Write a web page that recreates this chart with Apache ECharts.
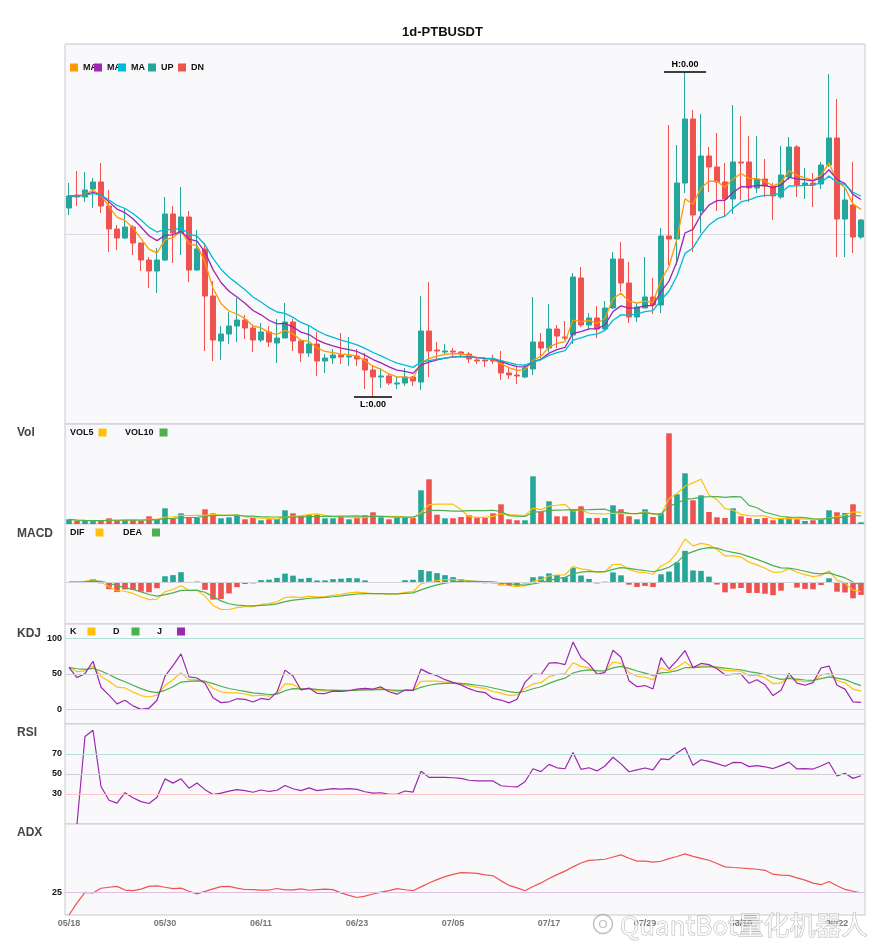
<!DOCTYPE html>
<html>
<head>
<meta charset="utf-8">
<title>1d-PTBUSDT</title>
<script src="https://cdn.jsdelivr.net/npm/echarts@6/dist/echarts.min.js"></script>
<style>
  html, body { margin: 0; padding: 0; background: #fff; }
  #chart { width: 885px; height: 950px; }
</style>
</head>
<body>
<div id="chart"></div>
<script>
const dates = [
  '05/18','05/19','05/20','05/21','05/22','05/23','05/24','05/25','05/26','05/27','05/28','05/29','05/30','05/31',
  '06/01','06/02','06/03','06/04','06/05','06/06','06/07','06/08','06/09','06/10','06/11','06/12','06/13','06/14','06/15',
  '06/16','06/17','06/18','06/19','06/20','06/21','06/22','06/23','06/24','06/25','06/26','06/27','06/28','06/29','06/30',
  '07/01','07/02','07/03','07/04','07/05','07/06','07/07','07/08','07/09','07/10','07/11','07/12','07/13','07/14','07/15',
  '07/16','07/17','07/18','07/19','07/20','07/21','07/22','07/23','07/24','07/25','07/26','07/27','07/28','07/29','07/30','07/31',
  '08/01','08/02','08/03','08/04','08/05','08/06','08/07','08/08','08/09','08/10','08/11','08/12','08/13','08/14','08/15',
  '08/16','08/17','08/18','08/19','08/20','08/21','08/22','08/23','08/24','08/25'
];

// prices in units of 0.00001 USDT
const PRICE_UNIT = 1e-5;
const openU = [
  216,229,227,235,242,218,195,186,197,181, 164,153,164,210,191,207,154,175,128,83,
  90,98,104,96,84,92,81,86,102,83, 71,80,63,66,69,67,68,65,54,47,
  48,40,41,47,42,93,74,72,73,72, 70,64,64,64,63,51,49,47,55,82,
  76,95,87,89,146,99,106,95,116,165, 141,107,116,127,119,188,185,241,305,213,
  268,257,242,225,262,262,236,245,238,227, 247,277,239,241,240,259,286,205,219,187
];
const closeU = [
  228,227,234,242,218,195,186,197,181,164, 153,164,210,191,207,154,175,128,84,90,
  98,104,96,84,92,82,86,102,83,71, 80,63,66,69,67,68,65,54,47,48,
  41,41,47,43,93,73,73,73,72,70, 65,63,63,63,51,49,48,56,82,76,
  95,88,86,147,99,106,95,116,165,141, 107,117,127,119,188,185,241,305,209,268,
  257,242,225,262,261,236,245,238,228,249, 277,239,241,239,259,286,205,224,187,204
];
const lowU = [
  209,218,222,216,211,172,174,185,169,153, 136,131,163,161,169,142,153,73,63,64,
  80,82,85,72,82,77,61,86,73,62, 67,48,51,60,60,58,58,35,27,36,
  39,35,38,38,34,47,64,69,68,67, 61,60,57,60,44,45,40,46,49,66,
  72,76,84,80,97,94,86,94,115,132, 101,102,116,110,111,159,159,231,172,191,
  232,213,207,210,224,222,231,227,204,225, 244,227,225,217,235,257,167,167,171,185
];
const highU = [
  241,253,252,246,261,234,199,216,199,181, 167,176,227,218,237,213,194,181,143,98,
  112,126,109,98,101,98,105,121,105,85, 99,92,70,75,91,87,75,71,59,56,
  50,47,56,48,128,142,82,80,76,73, 72,67,67,69,73,56,58,60,127,91,
  120,99,103,151,157,111,118,123,172,182, 162,121,167,146,196,299,279,352,314,310,
  277,291,261,319,308,288,288,265,241,278, 287,279,256,251,262,350,325,237,262,205
];
const volumes = [
  4.7,3,3,3,3,5.7,4,4,4,3.3, 7.7,4.3,15.7,5.3,10.7,6,6,14.7,10.7,5.7,
  6.7,8.3,4.7,6,3.7,4.7,5,13.7,10.7,8, 9.3,9.3,5.7,5.7,7.3,4.7,6.7,8.7,11.7,6.7,
  4.7,6,6,6,33.7,44.7,9.3,5.7,5.7,7, 8.7,6,6,10.7,19.7,4.7,3.7,3.7,47.7,12,
  22.7,7.7,7.7,14.3,17.7,6,6,6,18.7,14.7, 7.7,4.7,14.7,7,10.7,90.7,29.7,50.7,23.7,28.7,
  12,6.7,6,15.7,7.7,6,5,6,3.7,6, 6.7,4.7,3,3.7,4.7,13.7,11.7,11,19.7,1.7
];

const UP = '#26a69a', DN = '#ef5350';
const C_MA1 = '#ff9800', C_MA2 = '#9c27b0', C_MA3 = '#00bcd4';
const C_YEL = '#ffc107', C_GRN = '#4caf50', C_PUR = '#9c27b0';

const open = openU.map(v => v * PRICE_UNIT);
const close = closeU.map(v => v * PRICE_UNIT);
const low = lowU.map(v => v * PRICE_UNIT);
const high = highU.map(v => v * PRICE_UNIT);

function ema(src, n) {
  const k = 2 / (n + 1);
  let prev = src[0];
  return src.map((v, i) => (prev = i === 0 ? v : prev + k * (v - prev)));
}
function sma(src, n) {
  return src.map((v, i) => {
    const s = src.slice(Math.max(0, i - n + 1), i + 1);
    return s.reduce((a, b) => a + b, 0) / s.length;
  });
}

// price averages
const ma1 = ema(close, 5), ma2 = ema(close, 9), ma3 = ema(close, 13);
// volume averages
const vol5 = sma(volumes, 5), vol10 = sma(volumes, 10);

// MACD (fast settings)
const eFast = ema(close, 6), eSlow = ema(close, 13);
const dif = eFast.map((v, i) => v - eSlow[i]);
const dea = ema(dif, 5);
const macd = dif.map((v, i) => 2 * (v - dea[i]));

// KDJ 9/3/3
const kArr = [], dArr = [], jArr = [];
(function () {
  let k, d;
  close.forEach((c, i) => {
    const from = Math.max(0, i - 8);
    const lo = Math.min(...low.slice(from, i + 1));
    const hi = Math.max(...high.slice(from, i + 1));
    const rsv = hi === lo ? 50 : (c - lo) / (hi - lo) * 100;
    if (i === 0) { k = rsv; d = rsv; } else { k = (2 * k + rsv) / 3; d = (2 * d + k) / 3; }
    kArr.push(k); dArr.push(d); jArr.push(3 * k - 2 * d);
  });
})();

// RSI 14
const rsi = ['-'];
(function () {
  let ag = 0, al = 0;
  for (let i = 1; i < close.length; i++) {
    const diff = close[i] - close[i - 1];
    const g = Math.max(diff, 0), l = Math.max(-diff, 0);
    if (i <= 14) { ag = (ag * (i - 1) + g) / i; al = (al * (i - 1) + l) / i; }
    else { ag = (ag * 13 + g) / 14; al = (al * 13 + l) / 14; }
    rsi.push(ag + al === 0 ? 50 : ag / (ag + al) * 100);
  }
})();

// ADX 14
const adx = [0];
(function () {
  const a = 2 / 15;
  let sp = 0, sm = 0, v = 0;
  for (let i = 1; i < close.length; i++) {
    const up = high[i] - high[i - 1], down = low[i - 1] - low[i];
    const pdm = up > down && up > 0 ? up : 0;
    const mdm = down > up && down > 0 ? down : 0;
    sp += a * (pdm - sp);
    sm += a * (mdm - sm);
    const dx = sp + sm === 0 ? 0 : Math.abs(sp - sm) / (sp + sm) * 100;
    v += a * (dx - v);
    adx.push(v);
  }
})();

const hiIdx = high.indexOf(Math.max(...high));
const loIdx = low.indexOf(Math.min(...low));
const macdPeak = Math.max(...dif);

const grids = [
  { top: 44, height: 380 },
  { top: 424, height: 100 },
  { top: 524, height: 100 },
  { top: 624, height: 100 },
  { top: 724, height: 100 },
  { top: 824, height: 91 }
].map(g => Object.assign({
  left: 65, right: 20, show: true,
  backgroundColor: '#f9f9fb', borderColor: '#c9c9cf', borderWidth: 1
}, g));

const xAxes = grids.map((g, i) => ({
  type: 'category', gridIndex: i, data: dates, boundaryGap: true,
  axisLine: { show: false }, axisTick: { show: false }, splitLine: { show: false },
  axisLabel: { show: i === 5, interval: 11, color: '#777', fontWeight: 'bold', fontSize: 9, margin: 4 }
}));

const sideLabel = (keep) => ({
  show: true, fontSize: 9, fontWeight: 'bold', color: '#111', margin: 3,
  formatter: v => (keep.indexOf(Math.round(v)) >= 0 ? String(Math.round(v)) : '')
});
const noLabels = { axisLabel: { show: false }, axisTick: { show: false }, axisLine: { show: false }, splitLine: { show: false } };

const yAxes = [
  Object.assign({}, noLabels, { gridIndex: 0, min: 0, max: 0.0038, interval: 0.0019,
    splitLine: { show: true, lineStyle: { color: '#dddbe6', width: 1 } } }),
  Object.assign({}, noLabels, { gridIndex: 1, min: 0, max: 100 }),
  Object.assign({}, noLabels, { gridIndex: 2, min: -macdPeak * 42 / 43, max: macdPeak * 58 / 43 }),
  Object.assign({}, noLabels, { gridIndex: 3, min: -20, max: 120, interval: 10, axisLabel: sideLabel([0, 50, 100]) }),
  Object.assign({}, noLabels, { gridIndex: 4, min: 0, max: 100, interval: 10, axisLabel: sideLabel([30, 50, 70]) }),
  Object.assign({}, noLabels, { gridIndex: 5, min: 0, max: 100, interval: 25, axisLabel: sideLabel([25]) })
];

function line(name, data, color, idx, extra) {
  return Object.assign({
    name, type: 'line', data, xAxisIndex: idx, yAxisIndex: idx, z: 3,
    symbol: 'none', showSymbol: false, smooth: false,
    itemStyle: { color }, lineStyle: { color, width: 1.2 }
  }, extra || {});
}
// invisible host series so the guide lines sit under the indicator lines
function guides(idx, data, items) {
  return {
    name: 'guide' + idx, type: 'line', data, xAxisIndex: idx, yAxisIndex: idx, z: 1,
    symbol: 'none', silent: true, lineStyle: { opacity: 0 },
    markLine: {
      silent: true, symbol: 'none', animation: false, label: { show: false },
      data: items.map(([y, c]) => ({ yAxis: y, lineStyle: { color: c, width: 1, type: 'solid' } }))
    }
  };
}
function lg(name, left, top, align, pad, label) {
  return {
    show: true, left, top, padding: 0, data: [name], icon: 'rect',
    itemWidth: 8, itemHeight: 8, align, selectedMode: false,
    formatter: label || name,
    textStyle: {
      fontSize: 9, fontWeight: 'bold', color: '#111',
      padding: align === 'right' ? [0, pad, 0, 0] : [0, 0, 0, pad]
    }
  };
}

const candleData = dates.map((d, i) => [open[i], close[i], low[i], high[i]]);
const volData = volumes.map((v, i) => ({ value: v, itemStyle: { color: close[i] >= open[i] ? UP : DN } }));
const macdData = macd.map(v => ({ value: v, itemStyle: { color: v >= 0 ? UP : DN } }));

const markLabel = { show: true, color: '#000', fontWeight: 'bold', fontSize: 9, distance: 2 };
const paneTitle = (text, top) => ({ text, left: 17, top, padding: 0, textStyle: { fontSize: 12, fontWeight: 'bold', color: '#444' } });

const option = {
  animation: false,
  backgroundColor: '#fff',
  title: [
    { text: '1d-PTBUSDT', left: 'center', top: 26, padding: 0, textStyle: { fontSize: 13, fontWeight: 'bold', color: '#111' } },
    paneTitle('Vol', 427),
    paneTitle('MACD', 528),
    paneTitle('KDJ', 628),
    paneTitle('RSI', 727),
    paneTitle('ADX', 827)
  ],
  legend: [
    lg('MA5', 70, 63, 'left', 0, 'MA'),
    lg('MA9', 94, 63, 'left', 0, 'MA'),
    lg('MA13', 118, 63, 'left', 0, 'MA'),
    lg('UP', 148, 63, 'left', 0),
    lg('DN', 178, 63, 'left', 0),
    lg('VOL5', 70, 428, 'right', 0),
    lg('VOL10', 125, 428, 'right', 1),
    lg('DIF', 70, 528, 'right', 6),
    lg('DEA', 123, 528, 'right', 5),
    lg('K', 70, 627, 'right', 6),
    lg('D', 113, 627, 'right', 7),
    lg('J', 157, 627, 'right', 10)
  ],
  grid: grids,
  xAxis: xAxes,
  yAxis: yAxes,
  series: [
    {
      name: 'kline', type: 'candlestick', data: candleData, xAxisIndex: 0, yAxisIndex: 0,
      barWidth: 6,
      itemStyle: { color: UP, color0: DN, borderColor: UP, borderColor0: DN, borderWidth: 1 },
      markPoint: {
        symbol: 'rect', animation: false, itemStyle: { color: '#000' },
        data: [
          { name: 'H', coord: [dates[hiIdx], high[hiIdx]], value: high[hiIdx], symbolSize: [42, 1.5],
            label: Object.assign({}, markLabel, { position: 'top', formatter: p => 'H:' + p.value.toFixed(2) }) },
          { name: 'L', coord: [dates[loIdx], low[loIdx]], value: low[loIdx], symbolSize: [38, 1.5],
            label: Object.assign({}, markLabel, { position: 'bottom', formatter: p => 'L:' + p.value.toFixed(2) }) }
        ]
      }
    },
    line('MA5', ma1, C_MA1, 0, { lineStyle: { color: C_MA1, width: 1.3 } }),
    line('MA9', ma2, C_MA2, 0, { lineStyle: { color: C_MA2, width: 1.3 } }),
    line('MA13', ma3, C_MA3, 0, { lineStyle: { color: C_MA3, width: 1.3 } }),
    line('UP', [], UP, 0),
    line('DN', [], DN, 0),
    { name: 'Volume', type: 'bar', data: volData, xAxisIndex: 1, yAxisIndex: 1, barWidth: '70%' },
    line('VOL5', vol5, C_YEL, 1),
    line('VOL10', vol10, C_GRN, 1),
    guides(2, dif, [[0, '#d4d4d8']]),
    { name: 'MACD', type: 'bar', data: macdData, xAxisIndex: 2, yAxisIndex: 2, barWidth: '70%', z: 2 },
    line('DIF', dif, C_YEL, 2),
    line('DEA', dea, C_GRN, 2),
    guides(3, kArr, [[100, '#b2dfdb'], [50, '#d0d0d4'], [0, '#ffc4c4']]),
    line('K', kArr, C_YEL, 3),
    line('D', dArr, C_GRN, 3),
    line('J', jArr, C_PUR, 3),
    guides(4, rsi, [[70, '#b2dfdb'], [50, '#d0d0d4'], [30, '#ffc4c4']]),
    line('RSI', rsi, C_PUR, 4),
    guides(5, adx, [[25, '#e1bee7']]),
    line('ADX', adx, DN, 5)
  ],
  graphic: [
    { type: 'circle', z: 100, shape: { cx: 603, cy: 924, r: 9.5 },
      style: { fill: 'rgba(255,255,255,0.5)', stroke: 'rgba(140,140,140,0.55)', lineWidth: 1.5 } },
    { type: 'circle', z: 100, shape: { cx: 603, cy: 924, r: 3.5 },
      style: { fill: 'rgba(255,255,255,0.5)', stroke: 'rgba(140,140,140,0.55)', lineWidth: 1.2 } },
    { type: 'text', z: 100, x: 620, y: 925,
      style: { text: 'QuantBot量化机器人', font: '26px "Noto Sans CJK SC", sans-serif',
        fill: 'rgba(255,255,255,0.75)', stroke: 'rgba(130,130,130,0.55)', lineWidth: 1, verticalAlign: 'middle' } }
  ]
};

const chart = echarts.init(document.getElementById('chart'));
chart.setOption(option);
window.addEventListener('resize', chart.resize);
</script>
</body>
</html>
